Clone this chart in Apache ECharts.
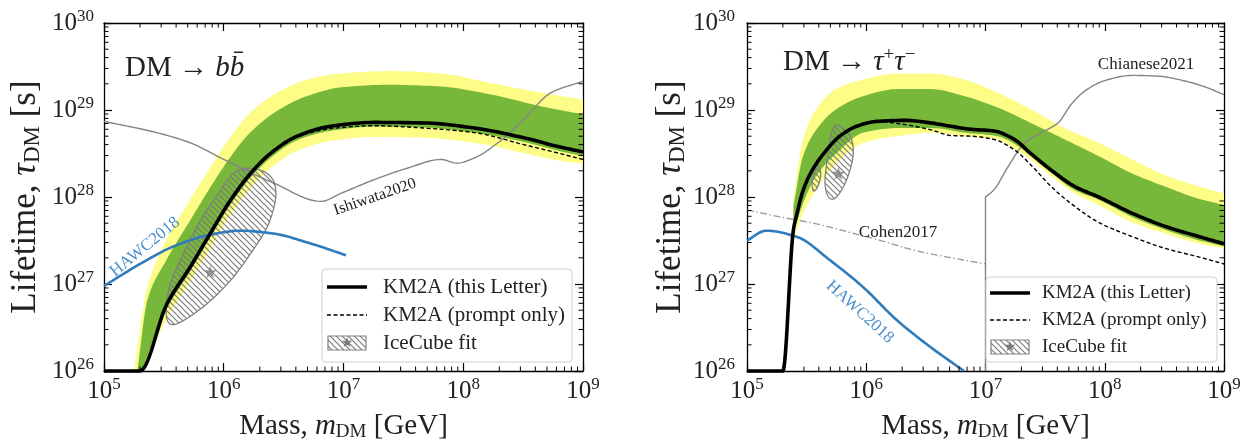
<!DOCTYPE html>
<html><head><meta charset="utf-8">
<script src="https://cdn.jsdelivr.net/npm/echarts@6/dist/echarts.min.js"></script>
<style>html,body{margin:0;padding:0;background:#fff}#c{width:1247px;height:444px}</style>
</head><body><div id="c"></div>
<script>
// ---------------- DATA ----------------
const xRange = [1e5, 1e9];
const yRange = [1e26, 1e30];
const minorMult = [2, 3, 4, 5, 6, 7, 8, 9];
const xDecades = [1e5, 1e6, 1e7, 1e8];
const yDecades = [1e26, 1e27, 1e28, 1e29];

// Left panel: DM -> b bbar
const bb_km2a = [[1e5,1e26],[2e5,1e26],[3.35e5,5.9e26],[5.25e5,1.57e27],[7.7e5,3.8e27],[1.14e6,9.2e27],[1.67e6,1.86e28],[2.45e6,3.16e28],[4.1e6,5.0e28],[7.8e6,6.5e28],[1.8e7,7.2e28],[4.7e7,7.1e28],[1.24e8,6.2e28],[3.2e8,4.8e28],[6.2e8,3.8e28],[1e9,3.3e28]];
const bb_prompt = [[1e5,1e26],[2e5,1e26],[3.35e5,5.9e26],[5.25e5,1.57e27],[7.7e5,3.8e27],[1.14e6,9.2e27],[1.67e6,1.86e28],[2.45e6,3.16e28],[4.1e6,4.9e28],[7.8e6,6.1e28],[1.8e7,6.6e28],[4.7e7,6.2e28],[1.24e8,5.5e28],[3.2e8,4.0e28],[6.2e8,3.2e28],[1e9,2.7e28]];
const bb_green_up = [[1.9e5,1e26],[2.3e5,6.5e26],[3.3e5,1.86e27],[5.25e5,5.4e27],[7.8e5,1.32e28],[1.15e6,2.95e28],[1.66e6,5.5e28],[2.8e6,9.8e28],[5.0e6,1.45e29],[9.5e6,1.82e29],[2.45e7,1.95e29],[6.5e7,1.86e29],[1.7e8,1.51e29],[4.5e8,1.1e29],[1e9,8.9e28]];
const bb_green_lo = [[2.05e5,1e26],[3.35e5,5.2e26],[5.25e5,1.4e27],[7.7e5,3.4e27],[1.14e6,8.2e27],[1.67e6,1.66e28],[2.45e6,2.8e28],[4.1e6,4.5e28],[7.8e6,5.75e28],[1.8e7,6.45e28],[4.7e7,6.3e28],[1.24e8,5.5e28],[3.2e8,4.3e28],[6.2e8,3.4e28],[1e9,2.95e28]];
const bb_yellow_up = [[1.78e5,1e26],[2.3e5,9.1e26],[3.3e5,3.16e27],[5.25e5,9.3e27],[7.8e5,2.24e28],[1.15e6,5.0e28],[1.66e6,9.3e28],[2.8e6,1.58e29],[5.0e6,2.24e29],[9.5e6,2.63e29],[2.45e7,2.8e29],[6.5e7,2.63e29],[1.7e8,2.04e29],[4.5e8,1.58e29],[1e9,1.32e29]];
const bb_yellow_lo = [[2.1e5,1e26],[3.35e5,4.0e26],[5.25e5,1.07e27],[7.7e5,2.57e27],[1.14e6,6.3e27],[1.67e6,1.26e28],[2.45e6,2.14e28],[4.1e6,3.4e28],[7.8e6,4.4e28],[1.8e7,4.9e28],[4.7e7,4.8e28],[1.24e8,4.2e28],[3.2e8,3.2e28],[6.2e8,2.63e28],[1e9,2.4e28]];
const bb_ishiwata = [[1e5,7.4e28],[2.75e5,5.5e28],[5.25e5,4.2e28],[1e6,2.7e28],[2.6e6,1.45e28],[6.5e6,8.9e27],[9.5e6,1.1e28],[1.8e7,1.58e28],[3.4e7,2.14e28],[6.5e7,2.7e28],[8.9e7,2.45e28],[1.23e8,2.8e28],[1.95e8,4.2e28],[3.2e8,7.8e28],[5.4e8,1.58e29],[1e9,2.14e29]];
const bb_hawc = [[1e5,9.5e26],[2e5,1.7e27],[3.8e5,2.7e27],[7.2e5,3.6e27],[1.38e6,4.1e27],[2.6e6,3.8e27],[5e6,3.0e27],[1.05e7,2.14e27]];
const bb_icecube = [[1.57e6,2.14e28],[2.16e6,1.96e28],[2.62e6,1.5e28],[2.7e6,9.2e27],[2.3e6,4.5e27],[1.67e6,2.23e27],[1.14e6,1.1e27],[7.2e5,5.9e26],[4.6e5,3.8e26],[3.57e5,3.46e26],[3.3e5,4.9e26],[3.57e5,1.0e27],[4.6e5,2.23e27],[6.4e5,5.4e27],[9.4e5,1.2e28],[1.21e6,1.88e28]];
const bb_star = [[7.7e5,1.38e27]];

// Right panel: DM -> tau+ tau-
const tt_km2a = [[1e5,1e26],[2e5,1e26],[2.45e5,4.2e27],[2.63e5,6.5e27],[2.9e5,1.1e28],[3.4e5,1.86e28],[4.4e5,3.16e28],[6.0e5,5.0e28],[8.3e5,6.5e28],[1.23e6,7.4e28],[2.1e6,7.6e28],[3.5e6,7.1e28],[5.1e6,6.5e28],[7.6e6,6.0e28],[1.17e7,5.75e28],[1.74e7,4.6e28],[2.4e7,3.16e28],[3.55e7,2.04e28],[5.6e7,1.32e28],[8.9e7,1.0e28],[1.7e8,6.5e27],[3.2e8,4.6e27],[6.2e8,3.5e27],[1e9,2.9e27]];
const tt_prompt = [[1e5,1e26],[2e5,1e26],[2.45e5,4.2e27],[2.63e5,6.5e27],[2.9e5,1.1e28],[3.4e5,1.86e28],[4.4e5,3.16e28],[6.0e5,5.0e28],[8.3e5,6.5e28],[1.23e6,7.4e28],[2.1e6,6.8e28],[3.5e6,5.9e28],[5.1e6,5.1e28],[7.6e6,5.0e28],[1.17e7,4.6e28],[1.74e7,3.5e28],[2.4e7,2.34e28],[3.55e7,1.32e28],[5.6e7,7.8e27],[8.9e7,5.1e27],[1.7e8,3.5e27],[3.2e8,2.57e27],[6.2e8,2.04e27],[1e9,1.7e27]];
const tt_green_up = [[2.45e5,7.8e27],[2.95e5,2.95e28],[3.8e5,5.9e28],[5.6e5,1.02e29],[9.5e5,1.45e29],[1.82e6,1.74e29],[3.5e6,1.74e29],[6.6e6,1.45e29],[1.26e7,1.07e29],[2.4e7,7.1e28],[4.6e7,4.6e28],[8.9e7,2.95e28],[1.7e8,1.86e28],[3.2e8,1.32e28],[6.2e8,9.5e27],[1e9,8.1e27]];
const tt_green_lo = [[2.45e5,3.8e27],[2.95e5,8.5e27],[3.8e5,1.74e28],[5.6e5,3.16e28],[9.5e5,5.5e28],[1.82e6,6.2e28],[3.5e6,6.2e28],[6.6e6,5.5e28],[1.26e7,5.0e28],[1.74e7,4.1e28],[2.4e7,2.95e28],[3.55e7,1.9e28],[5.6e7,1.2e28],[8.9e7,9.3e27],[1.7e8,5.9e27],[3.2e8,4.2e27],[6.2e8,3.16e27],[1e9,2.7e27]];
const tt_yellow_up = [[2.45e5,9.3e27],[2.95e5,4.6e28],[3.8e5,1.02e29],[5.6e5,1.74e29],[9.5e5,2.24e29],[1.82e6,2.63e29],[3.5e6,2.63e29],[6.6e6,2.24e29],[1.26e7,1.58e29],[2.4e7,1.02e29],[4.6e7,6.2e28],[8.9e7,4.2e28],[1.7e8,2.7e28],[3.2e8,1.78e28],[6.2e8,1.32e28],[1e9,1.1e28]];
const tt_yellow_lo = [[2.45e5,3.16e27],[2.95e5,6.5e27],[3.8e5,1.2e28],[5.6e5,2.45e28],[9.5e5,4.2e28],[1.82e6,5.0e28],[3.5e6,5.5e28],[6.6e6,5.0e28],[1.26e7,4.6e28],[1.74e7,3.6e28],[2.4e7,2.7e28],[3.55e7,1.74e28],[5.6e7,1.1e28],[8.9e7,8.1e27],[1.7e8,5.1e27],[3.2e8,3.8e27],[6.2e8,2.9e27],[1e9,2.57e27]];
const tt_cohen = [[1e5,7.1e27],[1.9e5,5.9e27],[3.6e5,5.0e27],[6.9e5,4.0e27],[1.32e6,3.16e27],[2.5e6,2.45e27],[4.8e6,2.04e27],[1.0e7,1.7e27]];
const tt_hawc = [[1e5,3.16e27],[1.45e5,4.1e27],[2.6e5,3.5e27],[5.0e5,1.86e27],[9.5e5,9.1e26],[1.82e6,3.8e26],[3.5e6,1.86e26],[6.6e6,1e26]];
const tt_chianese = [[1e7,1e26],[1e7,1.0e28],[1.17e7,1.2e28],[1.55e7,2.24e28],[2.14e7,4.2e28],[2.95e7,5.5e28],[4.1e7,7.2e28],[5.2e7,1.15e29],[6.8e7,1.65e29],[1e8,2.18e29],[1.7e8,2.5e29],[2.8e8,2.45e29],[4.8e8,2.14e29],[7.1e8,1.82e29],[1e9,1.5e29]];
const tt_icecube_a = [[5.65e5,6.73e28],[6.64e5,5.89e28],[7.55e5,4.52e28],[7.78e5,3.18e28],[7.31e5,2.04e28],[6.43e5,1.31e28],[5.47e5,9.66e27],[4.81e5,1.01e28],[4.51e5,1.44e28],[4.66e5,2.44e28],[4.97e5,4.52e28],[5.22e5,5.89e28]];
const tt_icecube_b = [[3.96e5,2.33e28],[4.15e5,1.79e28],[3.89e5,1.29e28],[3.6e5,1.18e28],[3.51e5,1.5e28],[3.72e5,2.04e28]];
const tt_star = [[5.85e5,1.87e28]];

const lbl = {
  km2a: 'KM2A (this Letter)', prompt: 'KM2A (prompt only)', ice: 'IceCube fit',
  ishiwata: 'Ishiwata2020', hawc: 'HAWC2018', cohen: 'Cohen2017', chianese: 'Chianese2021'
};

// ---------------- STYLE / HELPERS ----------------
const FONT = "'Liberation Serif','DejaVu Serif',serif";
const YELLOW = '#fcfc86', GREEN = '#77b83b', BLUE = '#2f7bbb', GRAY = '#858585';
const grids = [{left:104, top:23, width:479, height:348}, {left:747, top:23, width:477, height:348}];

function makeHatch(size, color, lw) {
  const c = document.createElement('canvas');
  c.width = size; c.height = size;
  const g = c.getContext('2d');
  g.strokeStyle = color; g.lineWidth = lw;
  g.beginPath();
  g.moveTo(-1, -1); g.lineTo(size + 1, size + 1);
  g.moveTo(-1, size - 1); g.lineTo(1, size + 1);
  g.moveTo(size - 1, -1); g.lineTo(size + 1, 1);
  g.stroke();
  return {image: c, repeat: 'repeat'};
}
const HATCH = makeHatch(6, '#777777', 1.1);

// closed Catmull-Rom (for contours), rendering only
function crClosed(pts, seg) {
  seg = seg || 10;
  const n = pts.length, out = [];
  const get = i => pts[(i + n) % n];
  for (let i = 0; i < n; i++) {
    const p0 = get(i - 1), p1 = get(i), p2 = get(i + 1), p3 = get(i + 2);
    for (let k = 0; k < seg; k++) {
      const t = k / seg, t2 = t * t, t3 = t2 * t;
      const f = (a, b, c, d) => 0.5 * ((2 * b) + (-a + c) * t + (2 * a - 5 * b + 4 * c - d) * t2 + (-a + 3 * b - 3 * c + d) * t3);
      out.push([f(p0[0], p1[0], p2[0], p3[0]), f(p0[1], p1[1], p2[1], p3[1])]);
    }
  }
  return out;
}
// monotone cubic in x (no overshoot), rendering only
function monoRun(p, seg) {
  const n = p.length;
  if (n < 3) return p.slice();
  const h = [], d = [], m = [];
  for (let k = 0; k < n - 1; k++) { h[k] = p[k + 1][0] - p[k][0]; d[k] = (p[k + 1][1] - p[k][1]) / h[k]; }
  m[0] = d[0]; m[n - 1] = d[n - 2];
  for (let k = 1; k < n - 1; k++) {
    if (d[k - 1] * d[k] <= 0) m[k] = 0;
    else m[k] = 3 * (h[k - 1] + h[k]) / ((2 * h[k] + h[k - 1]) / d[k - 1] + (h[k] + 2 * h[k - 1]) / d[k]);
  }
  const out = [];
  for (let k = 0; k < n - 1; k++) {
    for (let s = 0; s < seg; s++) {
      const t = s / seg, t2 = t * t, t3 = t2 * t;
      const y = (2 * t3 - 3 * t2 + 1) * p[k][1] + (t3 - 2 * t2 + t) * h[k] * m[k] + (-2 * t3 + 3 * t2) * p[k + 1][1] + (t3 - t2) * h[k] * m[k + 1];
      out.push([p[k][0] + t * h[k], y]);
    }
  }
  out.push(p[n - 1]);
  return out;
}
function smoothPath(px) {
  const out = [];
  let run = [px[0]];
  for (let i = 1; i < px.length; i++) {
    if (px[i][0] - px[i - 1][0] < 0.5) {
      out.push(...monoRun(run, 12));
      run = [px[i]];
    } else run.push(px[i]);
  }
  out.push(...monoRun(run, 12));
  return out;
}

function band(ai, upper, lower, color, z) {
  return {type: 'custom', xAxisIndex: ai, yAxisIndex: ai, z: z, silent: true, data: [upper[0]],
    renderItem: (params, api) => {
      const up = smoothPath(upper.map(p => api.coord(p)));
      const lo = smoothPath(lower.map(p => api.coord(p))).reverse();
      return {type: 'polygon', shape: {points: up.concat(lo)}, style: {fill: color}};
    }};
}
function hatchShape(ai, pts, z) {
  return {type: 'custom', xAxisIndex: ai, yAxisIndex: ai, z: z, silent: true, data: [pts[0]],
    renderItem: (params, api) => ({type: 'polygon', shape: {points: crClosed(pts.map(p => api.coord(p)))},
      style: {fill: HATCH, stroke: '#808080', lineWidth: 1.3}})};
}
function curve(ai, data, color, width, dash, z) {
  return {type: 'custom', xAxisIndex: ai, yAxisIndex: ai, z: z, silent: true, data: [data[0]],
    renderItem: (params, api) => {
      const pts = smoothPath(data.map(p => api.coord(p)));
      const st = {stroke: color, lineWidth: width, fill: null, lineJoin: 'round'};
      if (dash) st.lineDash = dash;
      return {type: 'polyline', shape: {points: pts}, style: st};
    }};
}
const STAR = 'path://M50,0 L61,35 L98,35 L68,57 L79,91 L50,70 L21,91 L32,57 L2,35 L39,35 Z';
function star(ai, data) {
  return {type: 'scatter', xAxisIndex: ai, yAxisIndex: ai, data: data, z: 8, silent: true,
    symbol: STAR, symbolSize: 13, itemStyle: {color: '#7a7a7a'}};
}
const minorX = [], minorY = [];
xDecades.forEach(d => minorMult.forEach(m => minorX.push(m * d)));
yDecades.forEach(d => minorMult.forEach(m => minorY.push(m * d)));
function frameTicks(ai) {
  return {type: 'custom', xAxisIndex: ai, yAxisIndex: ai, z: 20, silent: true, data: [[xRange[0], yRange[0]]],
    renderItem: (params, api) => {
      const kids = [];
      const st = {stroke: '#000', lineWidth: 1};
      minorX.forEach(v => {
        const b = api.coord([v, yRange[0]]), t = api.coord([v, yRange[1]]);
        kids.push({type: 'line', shape: {x1: b[0], y1: b[1], x2: b[0], y2: b[1] - 4.5}, style: st});
        kids.push({type: 'line', shape: {x1: t[0], y1: t[1], x2: t[0], y2: t[1] + 4.5}, style: st});
      });
      minorY.forEach(v => {
        const l = api.coord([xRange[0], v]), r = api.coord([xRange[1], v]);
        kids.push({type: 'line', shape: {x1: l[0], y1: l[1], x2: l[0] + 4.5, y2: l[1]}, style: st});
        kids.push({type: 'line', shape: {x1: r[0], y1: r[1], x2: r[0] - 4.5, y2: r[1]}, style: st});
      });
      return {type: 'group', children: kids};
    }};
}

const tickFmt = v => '{b|10}{s|' + Math.round(Math.log10(v)) + '}';
const tickRich = {
  b: {fontSize: 25, fontFamily: FONT, color: '#222', lineHeight: 26},
  s: {fontSize: 17, fontFamily: FONT, color: '#222', lineHeight: 17, padding: [0, 0, 12, 0]}
};
const axLine = {show: true, lineStyle: {color: '#000', width: 1.3}};
const axTick = {show: true, inside: true, length: 8, lineStyle: {color: '#000', width: 1.2}};
const xNameRich = {
  n: {fontSize: 29, fontFamily: FONT, color: '#222', lineHeight: 34},
  i: {fontSize: 29, fontFamily: FONT, fontStyle: 'italic', color: '#222', lineHeight: 34},
  sub: {fontSize: 19, fontFamily: FONT, color: '#222', lineHeight: 20, padding: [12, 0, 0, 0]}
};
const yNameRich = {
  n: {fontSize: 35, fontFamily: FONT, color: '#222', lineHeight: 38},
  i: {fontSize: 35, fontFamily: FONT, fontStyle: 'italic', color: '#222', lineHeight: 38},
  sub: {fontSize: 23, fontFamily: FONT, color: '#222', lineHeight: 24, padding: [14, 0, 0, 0]}
};

function xAx(gi, withLabel) {
  const a = {gridIndex: gi, type: 'log', logBase: 10, min: xRange[0], max: xRange[1], position: withLabel ? 'bottom' : 'top',
    axisLine: axLine, axisTick: axTick, splitLine: {show: false}, minorTick: {show: false},
    axisLabel: withLabel ? {show: true, formatter: tickFmt, rich: tickRich, margin: 7, showMinLabel: true, showMaxLabel: true, hideOverlap: false}
                         : {show: false}};
  if (withLabel) {
    a.name = '{n|Mass, }{i|m}{sub|DM}{n| [GeV]}';
    a.nameLocation = 'middle'; a.nameGap = 37;
    a.nameTextStyle = {rich: xNameRich, fontFamily: FONT};
  }
  return a;
}
function yAx(gi, withLabel, margin, gap) {
  const a = {gridIndex: gi, type: 'log', logBase: 10, min: yRange[0], max: yRange[1], position: withLabel ? 'left' : 'right',
    axisLine: axLine, axisTick: axTick, splitLine: {show: false}, minorTick: {show: false},
    axisLabel: withLabel ? {show: true, formatter: tickFmt, rich: tickRich, margin: margin, showMinLabel: true, showMaxLabel: true, hideOverlap: false}
                         : {show: false}};
  if (withLabel) {
    a.name = '{n|Lifetime, }{i|τ}{sub|DM}{n| [s]}';
    a.nameLocation = 'middle'; a.nameGap = gap; a.nameRotate = 90;
    a.nameTextStyle = {rich: yNameRich, fontFamily: FONT};
  }
  return a;
}

function txt(x, y, text, size, color, rot, align) {
  return {type: 'text', x: x, y: y, rotation: (rot || 0) * Math.PI / 180, z: 50,
    style: {text: text, fontSize: size, fontFamily: FONT, fill: color || '#222',
      align: align || 'center', verticalAlign: 'middle', textAlign: align || 'center', textVerticalAlign: 'middle'}};
}
function legend(bx, by, bw, bh, lx, tx, rows, fs) {
  return [
    {type: 'rect', shape: {x: bx, y: by, width: bw, height: bh, r: 4}, z: 40,
      style: {fill: 'rgba(255,255,255,0.85)', stroke: '#cfcfcf', lineWidth: 1}},
    {type: 'line', shape: {x1: lx, y1: rows[0], x2: lx + 40, y2: rows[0]}, z: 41, style: {stroke: '#000', lineWidth: 3.5}},
    {type: 'line', shape: {x1: lx, y1: rows[1], x2: lx + 40, y2: rows[1]}, z: 41, style: {stroke: '#000', lineWidth: 1.4, lineDash: [4, 2.5]}},
    {type: 'rect', shape: {x: lx + 1, y: rows[2] - 7, width: 38, height: 14}, z: 41, style: {fill: HATCH, stroke: '#808080', lineWidth: 1.2}},
    {type: 'text', x: lx + 20, y: rows[2], z: 42, style: {text: '★', fontSize: 14, fontFamily: 'DejaVu Sans', fill: '#7a7a7a', align: 'center', verticalAlign: 'middle', textAlign: 'center', textVerticalAlign: 'middle'}},
    txt(tx, rows[0], lbl.km2a, fs, '#222', 0, 'left'),
    txt(tx, rows[1], lbl.prompt, fs, '#222', 0, 'left'),
    txt(tx, rows[2], lbl.ice, fs, '#222', 0, 'left')
  ];
}
function title(x, y, rich) {
  return {type: 'text', x: x, y: y, z: 50, style: {text: rich, fontFamily: FONT, fontSize: 29, fill: '#222',
    align: 'left', verticalAlign: 'middle', textAlign: 'left', textVerticalAlign: 'middle',
    rich: {
      n: {fontSize: 29, fontFamily: FONT, fill: '#222', color: '#222', lineHeight: 34},
      i: {fontSize: 29, fontFamily: FONT, fontStyle: 'italic', fill: '#222', color: '#222', lineHeight: 34},
      s: {fontSize: 19, fontFamily: FONT, fill: '#222', color: '#222', lineHeight: 19, padding: [0, 0, 14, 0]}
    }}};
}

// ---------------- CHART ----------------
const chart = echarts.init(document.getElementById('c'), null, {renderer: 'canvas'});
const series = [
  band(0, bb_yellow_up, bb_yellow_lo, YELLOW, 1),
  band(0, bb_green_up, bb_green_lo, GREEN, 2),
  curve(0, bb_ishiwata, GRAY, 1.4, null, 3),
  hatchShape(0, bb_icecube, 4),
  curve(0, bb_hawc, BLUE, 2.6, null, 5),
  curve(0, bb_prompt, '#000', 1.4, [4, 2.5], 6),
  curve(0, bb_km2a, '#000', 3.6, null, 7),
  star(0, bb_star),
  frameTicks(0),
  band(2, tt_yellow_up, tt_yellow_lo, YELLOW, 1),
  band(2, tt_green_up, tt_green_lo, GREEN, 2),
  curve(2, tt_cohen, '#999', 1.3, [7, 2.5, 1.5, 2.5], 3),
  curve(2, tt_chianese, GRAY, 1.4, null, 3),
  hatchShape(2, tt_icecube_a, 4),
  hatchShape(2, tt_icecube_b, 4),
  curve(2, tt_hawc, BLUE, 2.6, null, 5),
  curve(2, tt_prompt, '#000', 1.4, [4, 2.5], 6),
  curve(2, tt_km2a, '#000', 3.6, null, 7),
  star(2, tt_star),
  frameTicks(2)
];

chart.setOption({
  animation: false,
  backgroundColor: '#fff',
  grid: grids.map(g => Object.assign({containLabel: false, outerBoundsMode: 'none'}, g)),
  xAxis: [xAx(0, true), xAx(0, false), xAx(1, true), xAx(1, false)],
  yAxis: [yAx(0, true, 10, 59), yAx(0, false), yAx(1, true, 12, 56), yAx(1, false)],
  series: series,
  graphic: [
    title(125, 68, '{n|DM → }{i|bb̄}'),
    title(783, 62, '{n|DM → }{i|τ}{s|+}{i|τ}{s|−}'),
    txt(375, 197, lbl.ishiwata, 16, '#222', 19),
    txt(145, 247, lbl.hawc, 17, '#4a8fcc', 39),
    txt(1146, 65, lbl.chianese, 17, '#222', 0),
    txt(898, 233, lbl.cohen, 17, '#222', 0),
    txt(860, 312, lbl.hawc, 17, '#4a8fcc', -42)
  ].concat(
    legend(322, 269, 250, 93, 327, 383, [287, 315, 343], 21),
    legend(986, 277, 231, 85, 990, 1042, [293, 320, 347], 19)
  )
});
</script></body></html>
